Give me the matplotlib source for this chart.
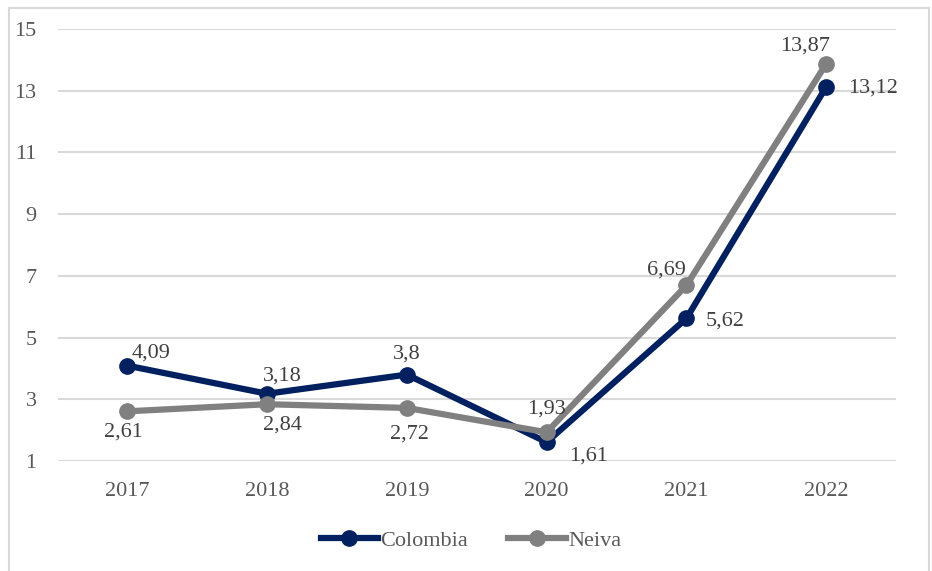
import matplotlib.pyplot as plt
from matplotlib.patches import Rectangle

years = ['2017', '2018', '2019', '2020', '2021', '2022']
colombia = [4.09, 3.18, 3.8, 1.61, 5.62, 13.12]
neiva = [2.61, 2.84, 2.72, 1.93, 6.69, 13.87]
yticks = [1, 3, 5, 7, 9, 11, 13, 15]

plt.rcParams['font.family'] = ['Liberation Serif', 'DejaVu Serif']

fig = plt.figure(figsize=(9.32, 5.71), dpi=100)
ax = fig.add_axes([57.5 / 932, 1 - 461 / 571, (896 - 57.5) / 932, (461 - 29) / 571])

x = list(range(len(years)))
ax.plot(x, colombia, color='#002060', lw=4.5, marker='o', ms=11, label='Colombia', zorder=3)
ax.plot(x, neiva, color='#808080', lw=4.5, marker='o', ms=11, label='Neiva', zorder=4)

def fmt(v):
    s = ('%.2f' % v).rstrip('0').rstrip('.')
    return s.replace('.', ',')

# label offsets (points)
col_off = [(3, 2, 'left', 'bottom'), (-3, 6, 'left', 'bottom'), (0, 8, 'center', 'bottom'),
           (16, -3, 'left', 'top'), (14, -2, 'left', 'center'), (16, -1, 'left', 'center')]
nei_off = [(-3, -8, 'center', 'top'), (11, -8, 'center', 'top'), (2, -12, 'center', 'top'),
           (0, 10, 'center', 'bottom'), (-14, 4, 'center', 'bottom'), (-15, 6, 'center', 'bottom')]
for i, v in enumerate(colombia):
    dx, dy, ha, va = col_off[i]
    ax.annotate(fmt(v), (i, v), xytext=(dx, dy), textcoords='offset points',
                ha=ha, va=va, fontsize=16, color='#404040', zorder=5)
for i, v in enumerate(neiva):
    dx, dy, ha, va = nei_off[i]
    ax.annotate(fmt(v), (i, v), xytext=(dx, dy), textcoords='offset points',
                ha=ha, va=va, fontsize=16, color='#404040', zorder=5)

ax.set_xlim(-0.5, len(years) - 0.5)
ax.set_ylim(1, 15)
ax.set_xticks(x)
ax.set_xticklabels(years)
ax.set_yticks(yticks)
ax.tick_params(axis='both', length=0, labelsize=16, labelcolor='#595959')
ax.tick_params(axis='x', pad=15)
ax.tick_params(axis='y', pad=15)
ax.grid(axis='y', color='#d9d9d9', lw=1.5)
ax.set_axisbelow(True)
for s in ax.spines.values():
    s.set_visible(False)

ax.legend(loc='center', bbox_to_anchor=(471 / 932, 1 - 541 / 571), bbox_transform=fig.transFigure,
          ncol=2, frameon=False, fontsize=16, labelcolor='#595959', handlelength=2.6,
          handletextpad=0.1, columnspacing=1.8)

fig.patches.append(Rectangle((9 / 932, -0.05), 920 / 932, 1.05 - 8 / 571, transform=fig.transFigure,
                             fill=False, edgecolor='#d9d9d9', lw=1.5))

fig.savefig('out.png', dpi=100)
